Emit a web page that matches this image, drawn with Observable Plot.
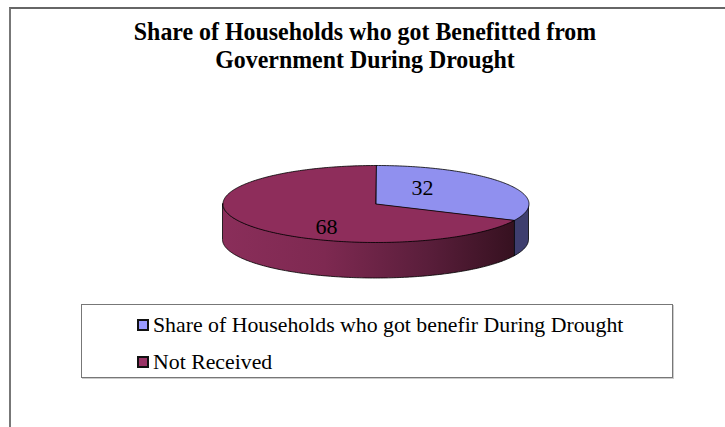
<!DOCTYPE html>
<html><head><meta charset="utf-8">
<script src="https://cdn.jsdelivr.net/npm/d3@7"></script>
<script src="https://cdn.jsdelivr.net/npm/@observablehq/plot@0.6"></script>
<style>
body{margin:0;background:#fff;}
#wrap{position:relative;width:725px;height:427px;overflow:hidden;font-family:"Liberation Serif","Times New Roman",serif;color:#000;}
#frame{position:absolute;left:9px;top:7px;width:730px;height:430px;border-left:2px solid #777;border-top:2px solid #666;}
#title{position:absolute;left:0;width:730px;top:19px;text-align:center;font-weight:bold;font-size:23.9px;line-height:27px;transform:scaleY(1.05);}
#chart{position:absolute;left:0;top:150px;}
#legend{position:absolute;left:81px;top:304px;width:590px;height:72px;border:1px solid #777;box-shadow:1px 1px 0 #ccc;}
.item{position:absolute;left:55px;height:26px;font-size:21.8px;line-height:26px;display:flex;align-items:center;white-space:nowrap;}
.sw{width:8px;height:8px;border:2px solid #111;margin-right:4px;flex:none;}
</style>
</head><body>
<div id="wrap">
  <div id="frame"></div>
  <div id="title">Share of Households who got Benefitted from<br>Government During Drought</div>
  <div id="chart"></div>
  <div id="legend"></div>
</div>
<script>
// ---- data ----
const categories = ["Share of Households who got benefir During Drought", "Not Received"];
const values = [32, 68];
const legendColors = ["#9999ff", "#993366"];
const topColors = ["#9090ef", "#8e2d5b"];
const sideColors = ["#3e3e6e", "url(#maroonSide)"];

// ---- geometry (layout) ----
const W = 725, H = 150;
const cx = 375.5, cy = 53.5, rx = 153, ry = 38.5, depth = 36;
const total = d3.sum(values);
const pt = a => [cx + rx * Math.sin(a), cy - ry * Math.cos(a)];

let cum = 0;
const slices = values.map((v, i) => {
  const a0 = cum / total * 2 * Math.PI;
  cum += v;
  const a1 = cum / total * 2 * Math.PI;
  return {i, v, a0, a1, mid: (a0 + a1) / 2};
});

function arcPts(a0, a1) {
  const n = Math.max(2, Math.ceil((a1 - a0) / (Math.PI / 180)));
  return d3.range(n + 1).map(k => a0 + (a1 - a0) * k / n);
}

// top faces
const topRows = [];
slices.forEach(s => {
  topRows.push({s: s.i, x: cx, y: cy});
  arcPts(s.a0, s.a1).forEach(a => { const [x, y] = pt(a); topRows.push({s: s.i, x, y}); });
});

// visible side walls (front half: PI/2 .. 3PI/2)
const sideRows = [];
slices.forEach(s => {
  const b0 = Math.max(s.a0, Math.PI / 2), b1 = Math.min(s.a1, 3 * Math.PI / 2);
  if (b1 <= b0) return;
  arcPts(b0, b1).forEach(a => { const [x, y] = pt(a); sideRows.push({s: s.i, x, y1: y, y2: y + depth}); });
});

const labelK = 0.36;
const labels = slices.map(s => {
  const [x, y] = [cx + labelK * rx * Math.sin(s.mid), cy - labelK * ry * Math.cos(s.mid)];
  return {s: s.i, x, y, text: String(values[s.i])};
});

const defs = () => {
  const d = d3.create("svg:defs");
  const g = d.append("linearGradient").attr("id", "maroonSide")
    .attr("x1", 0).attr("x2", 1).attr("y1", 0).attr("y2", 0);
  [[0, "#8a2e5a"], [0.35, "#7e2951"], [0.7, "#5a1e3b"], [1, "#361120"]]
    .forEach(([o, c]) => g.append("stop").attr("offset", o).attr("stop-color", c));
  return d.node();
};

const marks = [defs];
slices.forEach(s => {
  const rows = sideRows.filter(r => r.s === s.i);
  if (rows.length) marks.push(Plot.areaY(rows, {x: "x", y1: "y1", y2: "y2", fill: sideColors[s.i], stroke: "#000", strokeWidth: 0.8}));
});
slices.forEach(s => {
  marks.push(Plot.line(topRows.filter(r => r.s === s.i), {x: "x", y: "y", fill: topColors[s.i], stroke: "#000", strokeWidth: 0.8, curve: "linear-closed"}));
});
marks.push(Plot.text(labels.filter(d => d.s === 0), {x: "x", y: "y", text: "text", dy: -9, fontSize: 22, fill: "#000"}));
marks.push(Plot.text(labels.filter(d => d.s === 1), {x: "x", y: "y", text: "text", dx: -3, dy: 16, fontSize: 22, fill: "#000"}));

const chart = Plot.plot({
  width: W, height: H, margin: 0,
  x: {domain: [0, W], range: [0, W], axis: null},
  y: {domain: [0, H], range: [0, H], axis: null},
  style: {fontFamily: "'Liberation Serif','Times New Roman',serif", background: "transparent", overflow: "visible"},
  marks
});
document.getElementById("chart").appendChild(chart);

// legend
const leg = document.getElementById("legend");
categories.forEach((c, i) => {
  const it = document.createElement("div");
  it.className = "item";
  it.style.top = (i === 0 ? 7 : 44) + "px";
  const sw = document.createElement("span");
  sw.className = "sw";
  sw.style.background = legendColors[i];
  const t = document.createElement("span");
  t.textContent = c;
  it.appendChild(sw); it.appendChild(t);
  leg.appendChild(it);
});
</script>
</body></html>
